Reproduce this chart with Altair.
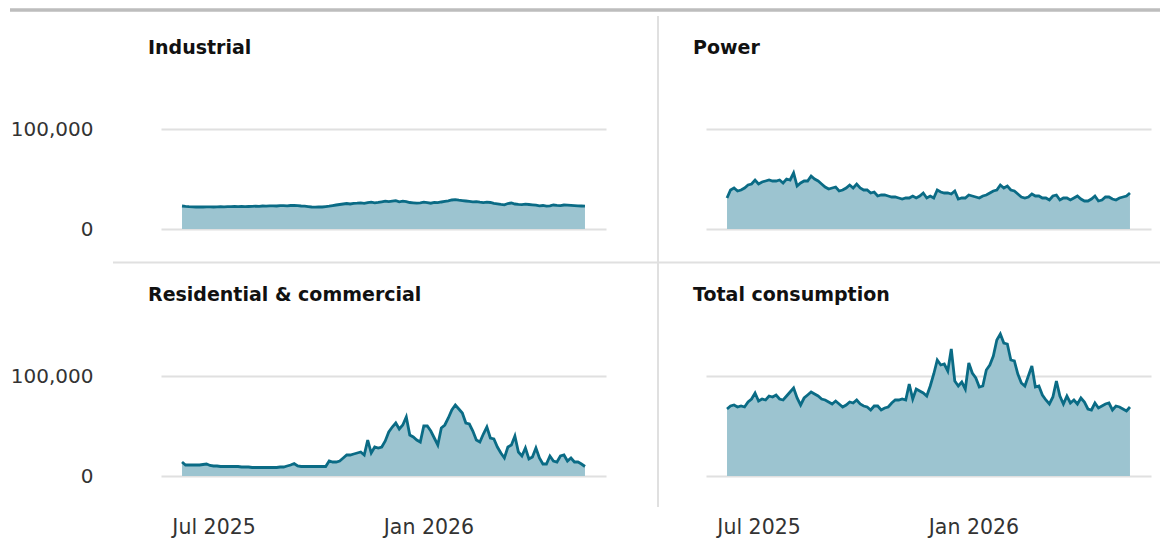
import altair as alt
import pandas as pd

# ---- data (readings every 3 days, from 4 Jun 2025), thousands ----
industrial = [23.0, 22.6, 22.3, 22.2, 22.0, 22.1, 22.0, 22.2, 22.1, 22.0,
              22.2, 22.3, 22.1, 22.4, 22.3, 22.5, 22.4, 22.6, 22.4, 22.5,
              22.6, 22.8, 22.7, 23.0, 22.8, 23.1, 23.2, 23.0, 23.3, 23.4,
              23.2, 23.5, 23.6, 23.3, 23.0, 22.8, 22.4, 22.0, 21.8, 22.0,
              22.0, 22.4, 22.8, 23.4, 24.0, 24.5, 25.0, 25.5, 25.0, 25.6,
              25.8, 26.2, 25.6, 26.4, 26.8, 26.2, 26.6, 27.2, 27.8, 27.4,
              27.9, 28.3, 27.2, 27.8, 27.4, 26.5, 26.2, 25.8, 26.2, 26.8,
              26.4, 25.8, 26.7, 26.3, 27.0, 27.6, 28.2, 29.0, 29.4, 28.8,
              28.4, 28.0, 27.6, 27.2, 27.4, 26.8, 26.4, 26.8, 26.5, 25.6,
              25.2, 24.6, 24.2, 25.5, 26.0, 25.0, 24.6, 24.4, 24.8, 24.5,
              24.2, 23.8, 23.2, 23.5, 22.8, 23.2, 24.0, 23.6, 23.4, 24.0,
              23.8, 23.6, 23.4, 23.2, 23.0, 22.8]

power = [31, 39, 41, 38, 39, 41, 44, 45, 49, 45,
         47, 48, 49, 48, 48, 49, 46, 50, 49, 56,
         43, 46, 48, 48, 53, 50, 48, 45, 42, 40,
         41, 42, 38, 39, 41, 44, 41, 45, 41, 39,
         39, 36, 37, 33, 34, 34, 33, 32, 32, 31,
         30, 31, 31, 33, 31, 33, 36, 31, 33, 31,
         39, 37, 36, 36, 35, 38, 30, 31, 31, 34,
         33, 32, 31, 33, 34, 36, 38, 39, 44, 41,
         43, 39, 38, 35, 32, 31, 32, 35, 33, 33,
         31, 31, 29, 33, 34, 29, 31, 31, 29, 31,
         33, 30, 28, 28, 30, 33, 28, 29, 32, 32,
         30, 29, 31, 32, 33, 36]

residential = [14, 11, 11, 11, 11, 11, 11.5, 12, 10.5, 10,
               10, 9.5, 9.5, 9.5, 9.5, 9.5, 9.5, 9, 9, 9,
               8.5, 8.5, 8.5, 8.5, 8.5, 8.5, 8.5, 8.5, 9, 9,
               10, 11, 12.5, 10, 9.5, 9.5, 9.5, 9.5, 9.5, 9.5,
               9.5, 9.5, 15, 14, 14, 15, 18, 21, 21, 22,
               23, 24, 21, 36, 23, 29, 28, 29, 35, 44,
               49, 53, 47, 51, 59, 41, 39, 36, 34, 50,
               50, 45, 38, 31, 48, 51, 58, 66, 71, 67,
               63, 53, 52, 45, 36, 34, 42, 49, 38, 37,
               29, 23, 18, 29, 31, 40, 24, 20, 28, 17,
               19, 28, 18, 12, 12, 20, 15, 14, 20, 21,
               15, 18, 14, 14, 12, 9.5]

total = [67, 70, 71, 69, 70, 69, 74, 77, 83, 75,
         77, 76, 80, 79, 81, 77, 76, 80, 84, 88,
         78, 71, 78, 81, 84, 82, 80, 77, 76, 74,
         72, 75, 72, 69, 71, 74, 73, 76, 72, 70,
         69, 66, 70, 70, 66, 68, 69, 73, 76, 76,
         77, 76, 92, 77, 87, 85, 83, 80, 90, 102,
         116, 111, 112, 105, 127, 95, 90, 94, 87, 113,
         103, 98, 89, 90, 106, 111, 120, 136, 142, 133,
         132, 116, 115, 102, 93, 90, 100, 110, 89, 90,
         81, 76, 72, 79, 95, 80, 72, 80, 73, 76,
         72, 78, 74, 67, 66, 73, 68, 70, 72, 73,
         66, 70, 69, 67, 65, 69]

titles = ["Industrial", "Power", "Residential & commercial", "Total consumption"]
series = [industrial, power, residential, total]
start_date = "2025-06-04"
step_days = 3

dates = pd.date_range(start_date, periods=len(total), freq=f"{step_days}D")

FILL = "#9cc4d0"
LINE = "#0a6b85"
GRID = "#e0e0e0"
FONT = "DejaVu Sans"
W, H = 445, 150

x_domain = [alt.DateTime(year=2025, month=5, date=17), alt.DateTime(year=2026, month=6, date=2)]
x_ticks = [alt.DateTime(year=2025, month=7, date=1), alt.DateTime(year=2026, month=1, date=1)]

one = pd.DataFrame({"k": [0]})


def deco(x1, x2, y1, y2, color, width):
    return alt.Chart(one).mark_rule(color=color, strokeWidth=width, strokeCap="butt").encode(
        x=alt.value(x1), x2=alt.value(x2), y=alt.value(y1), y2=alt.value(y2))


def panel(idx):
    vals = [v * 1000 for v in series[idx]]
    df = pd.DataFrame({"date": dates, "value": vals})
    left = idx % 2 == 0
    bottom = idx >= 2
    if bottom:
        xaxis = alt.Axis(values=x_ticks, format="%b %Y", labelFontSize=20.5, labelFont=FONT,
                         labelColor="#333", labelPadding=41, ticks=False, domain=False,
                         grid=False, title=None, labelFlush=False)
    else:
        xaxis = None
    yaxis = alt.Axis(values=[0, 100000], format=",.0f", labels=left, labelFontSize=20,
                     labelFont=FONT, labelColor="#333", labelPadding=68, ticks=False,
                     domain=False, grid=True, gridColor=GRID, gridWidth=2, title=None)
    base = alt.Chart(df).encode(
        x=alt.X("date:T", scale=alt.Scale(domain=x_domain), axis=xaxis),
        y=alt.Y("value:Q", scale=alt.Scale(domain=[0, 150000]), axis=yaxis),
    )
    layers = [base.mark_area(color=FILL, opacity=1),
              base.mark_line(color=LINE, strokeWidth=2.8)]
    title = alt.Chart(one).mark_text(
        text=titles[idx], align="left", baseline="alphabetic", fontSize=19,
        fontWeight="bold", font=FONT, color="#111").encode(x=alt.value(-13), y=alt.value(-25))
    layers.append(title)
    if idx == 0:
        layers.append(deco(-151, 999, -69, -69, "#bdbdbd", 3.5))
        layers.append(deco(497, 497, -63, 428, GRID, 2))
        layers.append(deco(-48, 999, 183.5, 183.5, GRID, 2))
    return alt.layer(*layers).properties(width=W, height=H)


chart = alt.concat(*[panel(i) for i in range(4)], columns=2,
                   spacing={"row": 97, "column": 100}, bounds="flush").properties(
    padding={"left": 0, "top": 0, "right": 0, "bottom": 0}
).configure_view(stroke=None)

chart.save("out.html", embed_options={"renderer": "svg", "actions": False})
